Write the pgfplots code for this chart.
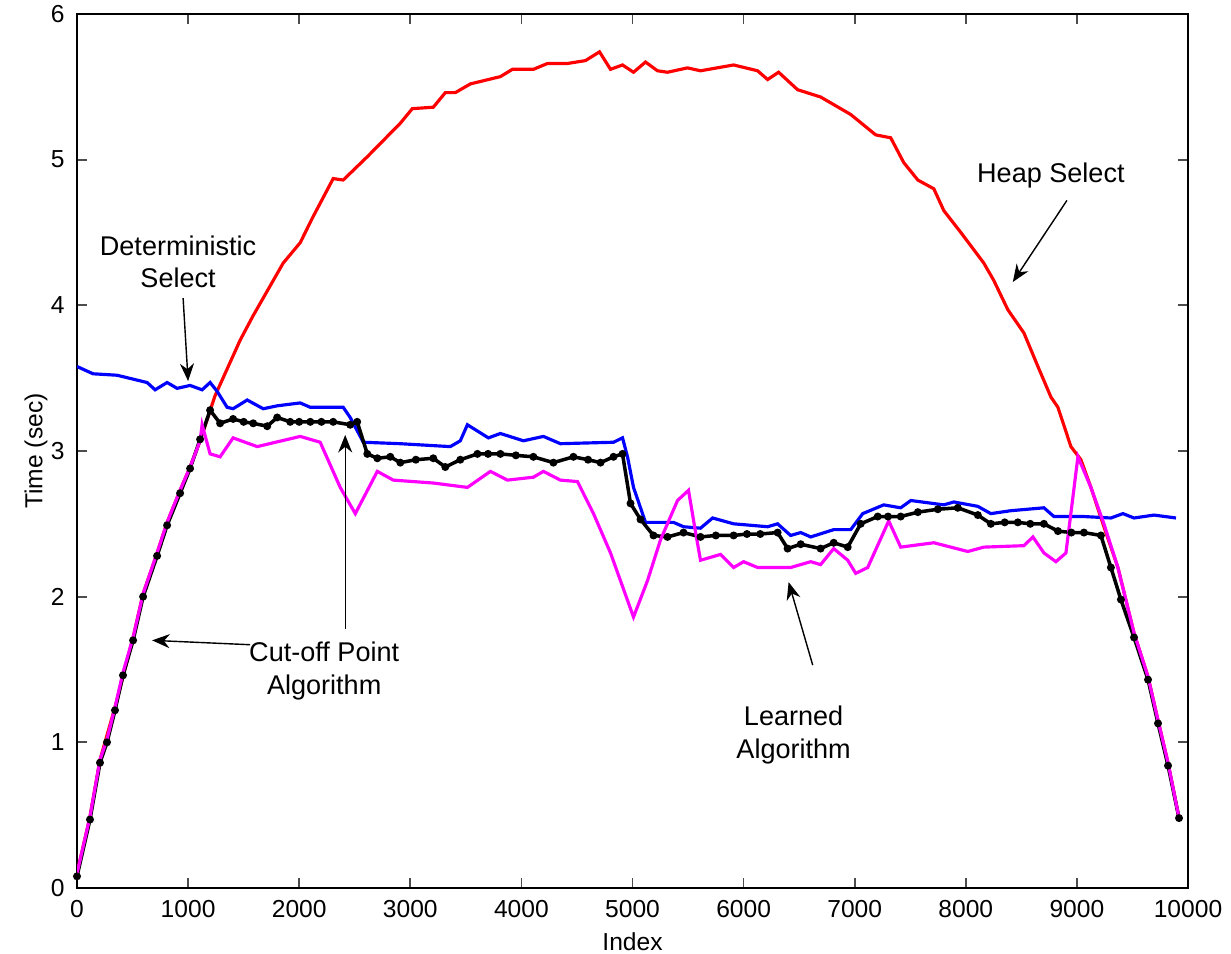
\documentclass[border=0pt]{standalone}
\usepackage{fontspec}
\setmainfont{Liberation Sans}
\usepackage{pgfplots}
\pgfplotsset{compat=1.18}
\usetikzlibrary{arrows.meta}
\definecolor{heapred}{RGB}{255,0,0}
\definecolor{detblue}{RGB}{0,0,255}
\definecolor{learnmag}{RGB}{255,0,255}

\begin{document}
\begin{tikzpicture}
\begin{axis}[
  scale only axis,
  width=11.11cm, height=8.74cm,
  xmin=0, xmax=10000, ymin=0, ymax=6,
  xtick={0,1000,...,10000},
  ytick={0,1,...,6},
  scaled x ticks=false,
  xticklabel style={/pgf/number format/1000 sep={}},
  /pgf/number format/assume math mode=true,
  tick align=inside,
  major tick length=0.1cm,
  axis line style={line width=0.7pt},
  tick style={line width=0.5pt, black!70},
  ticklabel style={font=\fontsize{7}{8}\selectfont},
  label style={font=\fontsize{7}{8}\selectfont},
  xlabel={Index},
  ylabel={Time (sec)},
  xlabel style={at={(axis description cs:0.5,-0.062)}, anchor=center},
  ylabel style={at={(axis description cs:-0.037,0.5)}, anchor=center},
]
\coordinate (sw) at (rel axis cs:0,0);
\coordinate (ne) at (rel axis cs:1,1);
% Heap Select
\addplot[heapred, line width=0.9pt] coordinates {
(0,0.1) (117,0.49) (207,0.88) (342,1.24) (505,1.72) (595,2.02) (721,2.30)
(811,2.51) (928,2.73) (1018,2.89) (1108,3.07) (1243,3.38) (1468,3.76)
(1586,3.93) (1856,4.29) (2009,4.43) (2126,4.61) (2306,4.87) (2396,4.86)
(2613,5.02) (2910,5.25) (3018,5.35) (3207,5.36) (3315,5.46) (3405,5.46)
(3541,5.52) (3811,5.57) (3919,5.62) (4108,5.62) (4234,5.66) (4414,5.66)
(4577,5.68) (4703,5.74) (4802,5.62) (4910,5.65) (5009,5.60) (5117,5.67)
(5225,5.61) (5315,5.60) (5495,5.63) (5612,5.61) (5910,5.65) (6126,5.61)
(6216,5.55) (6315,5.60) (6486,5.48) (6693,5.43) (6964,5.31) (7189,5.17)
(7324,5.15) (7441,4.98) (7568,4.86) (7712,4.80) (7802,4.65) (7955,4.50)
(8162,4.29) (8252,4.17) (8378,3.97) (8523,3.81) (8649,3.58) (8766,3.37)
(8829,3.30) (8946,3.03) (9036,2.94) (9126,2.75) (9243,2.48) (9369,2.20)
(9514,1.75) (9640,1.45) (9730,1.15) (9820,0.86) (9919,0.48)
};
% Deterministic Select
\addplot[detblue, line width=0.9pt] coordinates {
(0,3.58) (144,3.53) (360,3.52) (631,3.47) (703,3.42) (811,3.47) (901,3.43)
(1018,3.45) (1126,3.42) (1198,3.47) (1261,3.41) (1351,3.30) (1405,3.29)
(1532,3.35) (1676,3.29) (1802,3.31) (2009,3.33) (2099,3.30) (2396,3.30)
(2459,3.23) (2577,3.06) (2910,3.05) (3360,3.03) (3450,3.07) (3514,3.18)
(3703,3.09) (3811,3.12) (4018,3.07) (4198,3.10) (4351,3.05) (4829,3.06)
(4910,3.09) (4955,2.96) (5009,2.75) (5117,2.51) (5369,2.51) (5459,2.48)
(5612,2.47) (5721,2.54) (5910,2.50) (6216,2.48) (6306,2.50) (6423,2.42)
(6514,2.44) (6604,2.41) (6811,2.46) (6964,2.46) (7072,2.57) (7261,2.63)
(7414,2.61) (7505,2.66) (7802,2.63) (7892,2.65) (8108,2.62) (8225,2.57)
(8405,2.59) (8703,2.61) (8793,2.55) (9063,2.55) (9306,2.54) (9414,2.57)
(9514,2.54) (9694,2.56) (9892,2.54)
};
% Cut-off Point Algorithm
\addplot[black, line width=1pt, mark=*, mark size=0.6pt] coordinates {
(0,0.08) (117,0.47) (207,0.86) (270,1.00) (342,1.22) (414,1.46) (505,1.70)
(595,2.00) (721,2.28) (811,2.49) (928,2.71) (1018,2.88) (1108,3.08)
(1198,3.28) (1288,3.19) (1405,3.22) (1500,3.20) (1586,3.19) (1712,3.17)
(1802,3.23) (1919,3.20) (2000,3.20) (2100,3.20) (2200,3.20) (2306,3.20)
(2459,3.18) (2522,3.20) (2613,2.98) (2703,2.95) (2820,2.96) (2910,2.92)
(3050,2.94) (3207,2.95) (3315,2.89) (3450,2.94) (3604,2.98) (3700,2.98)
(3811,2.98) (3950,2.97) (4108,2.96) (4288,2.92) (4468,2.96) (4600,2.94)
(4712,2.92) (4829,2.96) (4910,2.98) (4982,2.64) (5072,2.53) (5189,2.42)
(5315,2.41) (5459,2.44) (5612,2.41) (5750,2.42) (5910,2.42) (6030,2.43)
(6150,2.43) (6306,2.44) (6396,2.33) (6514,2.36) (6693,2.33) (6811,2.37)
(6937,2.34) (7054,2.50) (7207,2.55) (7300,2.55) (7414,2.55) (7568,2.58)
(7748,2.60) (7928,2.61) (8108,2.56) (8225,2.50) (8350,2.51) (8468,2.51)
(8580,2.50) (8703,2.50) (8829,2.45) (8950,2.44) (9063,2.44) (9216,2.42)
(9306,2.20) (9396,1.98) (9514,1.72) (9640,1.43) (9730,1.13) (9820,0.84)
(9919,0.48)
};
% Learned Algorithm
\addplot[learnmag, line width=0.9pt] coordinates {
(0,0.1) (117,0.49) (207,0.88) (270,1.02) (342,1.24) (414,1.48) (505,1.72)
(595,2.02) (721,2.30) (811,2.51) (928,2.73) (1018,2.89) (1108,3.07)
(1126,3.18) (1198,2.98) (1288,2.96) (1405,3.09) (1622,3.03) (2009,3.10)
(2189,3.06) (2369,2.75) (2505,2.57) (2703,2.86) (2847,2.80) (3207,2.78)
(3514,2.75) (3721,2.86) (3874,2.80) (4108,2.82) (4198,2.86) (4351,2.80)
(4505,2.79) (4649,2.57) (4802,2.30) (5009,1.86) (5135,2.11) (5252,2.39)
(5405,2.66) (5504,2.73) (5568,2.44) (5612,2.25) (5793,2.29) (5910,2.20)
(6000,2.24) (6126,2.20) (6423,2.20) (6604,2.24) (6693,2.22) (6811,2.33)
(6937,2.25) (7009,2.16) (7117,2.20) (7306,2.52) (7414,2.34) (7712,2.37)
(8018,2.31) (8162,2.34) (8523,2.35) (8604,2.41) (8703,2.30) (8811,2.24)
(8901,2.30) (9009,2.96) (9126,2.75) (9243,2.50) (9369,2.20) (9514,1.75)
(9640,1.45) (9730,1.15) (9820,0.86) (9919,0.48)
};

% annotations
\tikzset{ann/.style={font=\fontsize{7.7}{9.2}\selectfont, align=center},
         arr/.style={-{Stealth[length=5pt,width=4pt]}, line width=0.4pt}}
\node[ann] at (axis cs:910,4.30) {Deterministic\\Select};
\draw[arr] (axis cs:955,4.05) -- (axis cs:1000,3.48);
\node[ann] at (axis cs:8766,4.89) {Heap Select};
\draw[arr] (axis cs:8910,4.72) -- (axis cs:8423,4.16);
\node[ann] at (axis cs:2225,1.49) {Cut-off Point\\Algorithm};
\draw[arr] (axis cs:1559,1.67) -- (axis cs:676,1.70);
\draw[arr] (axis cs:2414,1.78) -- (axis cs:2414,3.11);
\node[ann] at (axis cs:6450,1.05) {Learned\\Algorithm};
\draw[arr] (axis cs:6622,1.53) -- (axis cs:6405,2.10);
\end{axis}
\pgfresetboundingbox
\path ([shift={(-0.77cm,-0.66cm)}]sw) rectangle ([shift={(0.43cm,0.14cm)}]ne);
\end{tikzpicture}
\end{document}
